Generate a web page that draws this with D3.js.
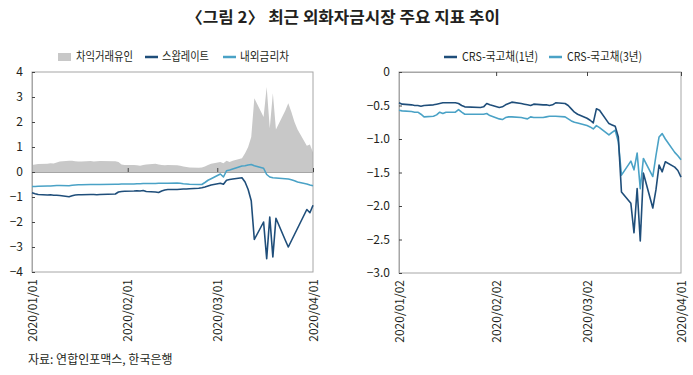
<!DOCTYPE html>
<html><head><meta charset="utf-8">
<script src="https://cdn.jsdelivr.net/npm/d3@7"></script>
<style>body{margin:0;background:#fff}svg{display:block}text{font-family:"Noto Sans CJK KR","Noto Sans",sans-serif}</style>
</head><body><svg id="c" width="693" height="375"></svg>
<script>
// ---------- DATA ----------
const tradingDays = ["2020-01-02","2020-01-03","2020-01-06","2020-01-07","2020-01-08","2020-01-09","2020-01-10","2020-01-13","2020-01-14","2020-01-15","2020-01-16","2020-01-17","2020-01-20","2020-01-21","2020-01-22","2020-01-23","2020-01-28","2020-01-29","2020-01-30","2020-01-31","2020-02-03","2020-02-04","2020-02-05","2020-02-06","2020-02-07","2020-02-10","2020-02-11","2020-02-12","2020-02-13","2020-02-14","2020-02-17","2020-02-18","2020-02-19","2020-02-20","2020-02-21","2020-02-24","2020-02-25","2020-02-26","2020-02-27","2020-02-28","2020-03-02","2020-03-03","2020-03-04","2020-03-05","2020-03-06","2020-03-09","2020-03-10","2020-03-11","2020-03-12","2020-03-13","2020-03-16","2020-03-17","2020-03-18","2020-03-19","2020-03-20","2020-03-23","2020-03-24","2020-03-25","2020-03-26","2020-03-27","2020-03-30","2020-03-31","2020-04-01"];
const leftDates = ["2020-01-01"].concat(tradingDays);
const arbitrage = [0.28,0.30,0.32,0.33,0.35,0.34,0.38,0.42,0.45,0.45,0.43,0.42,0.42,0.44,0.42,0.43,0.44,0.43,0.40,0.30,0.28,0.28,0.27,0.25,0.28,0.30,0.33,0.30,0.28,0.27,0.28,0.27,0.25,0.22,0.20,0.18,0.17,0.18,0.22,0.28,0.33,0.40,0.35,0.45,0.40,0.45,0.55,0.75,1.00,1.40,2.95,2.20,3.40,1.75,3.15,1.70,2.45,2.75,2.40,2.00,1.70,1.05,1.10,0.78];
const swapRate = [-0.83,-0.87,-0.90,-0.92,-0.91,-0.93,-0.93,-0.94,-0.99,-0.95,-0.92,-0.91,-0.91,-0.90,-0.90,-0.91,-0.90,-0.88,-0.80,-0.78,-0.77,-0.76,-0.75,-0.76,-0.74,-0.78,-0.80,-0.82,-0.76,-0.72,-0.70,-0.70,-0.69,-0.68,-0.68,-0.67,-0.65,-0.63,-0.60,-0.56,-0.52,-0.45,-0.49,-0.33,-0.30,-0.28,-0.23,-0.40,-0.70,-1.15,-2.70,-2.00,-3.47,-1.80,-3.40,-1.85,-2.72,-3.00,-2.75,-2.50,-2.25,-1.50,-1.63,-1.33];
const rateDiff = [-0.58,-0.58,-0.57,-0.56,-0.56,-0.55,-0.54,-0.54,-0.55,-0.53,-0.52,-0.51,-0.51,-0.50,-0.50,-0.50,-0.50,-0.49,-0.49,-0.48,-0.48,-0.48,-0.47,-0.47,-0.46,-0.46,-0.46,-0.45,-0.45,-0.45,-0.45,-0.44,-0.45,-0.47,-0.48,-0.49,-0.50,-0.50,-0.42,-0.33,-0.27,-0.08,-0.20,0.05,0.08,0.12,0.24,0.25,0.28,0.30,0.25,0.15,-0.10,-0.20,-0.23,-0.24,-0.27,-0.28,-0.31,-0.35,-0.40,-0.48,-0.52,-0.55];
const crs1y = [-0.46,-0.48,-0.49,-0.50,-0.50,-0.51,-0.50,-0.49,-0.48,-0.47,-0.46,-0.46,-0.46,-0.47,-0.50,-0.52,-0.53,-0.52,-0.47,-0.49,-0.53,-0.52,-0.49,-0.47,-0.45,-0.47,-0.48,-0.49,-0.50,-0.48,-0.49,-0.49,-0.50,-0.49,-0.46,-0.47,-0.50,-0.55,-0.60,-0.63,-0.69,-0.72,-0.76,-0.55,-0.57,-0.77,-0.79,-0.81,-0.97,-1.79,-1.96,-2.40,-1.74,-2.52,-1.51,-2.03,-1.76,-1.39,-1.49,-1.34,-1.42,-1.47,-1.57];
const crs3y = [-0.57,-0.58,-0.59,-0.60,-0.60,-0.63,-0.67,-0.66,-0.64,-0.60,-0.62,-0.60,-0.60,-0.56,-0.60,-0.63,-0.63,-0.63,-0.62,-0.65,-0.70,-0.71,-0.68,-0.67,-0.67,-0.68,-0.69,-0.70,-0.67,-0.68,-0.68,-0.67,-0.66,-0.66,-0.66,-0.67,-0.70,-0.73,-0.75,-0.76,-0.80,-0.82,-0.85,-0.80,-0.83,-0.94,-0.90,-0.87,-1.04,-1.54,-1.33,-1.46,-1.21,-1.74,-1.29,-1.56,-1.25,-0.97,-0.92,-1.00,-1.20,-1.25,-1.31];
const leftYTicks = [4,3,2,1,0,-1,-2,-3,-4];
const rightYTicks = [0,-0.5,-1.0,-1.5,-2.0,-2.5,-3.0];
const leftXTicks = ["2020-01-01","2020-02-01","2020-03-01","2020-04-01"];
const rightXTicks = ["2020-01-02","2020-02-02","2020-03-02","2020-04-01"];
const leftLegend = ["차익거래유인","스왑레이트","내외금리차"];
const rightLegend = ["CRS-국고채(1년)","CRS-국고채(3년)"];
const titleText = "〈그림 2〉 최근 외화자금시장 주요 지표 추이";
const sourceText = "자료: 연합인포맥스, 한국은행";

// ---------- DRAW ----------
const P = d3.timeParse("%Y-%m-%d");
const fmt = d3.timeFormat("%Y/%m/%d");
const C_DARK = "#1f4e7a", C_LIGHT = "#4aa2c6", C_GRAY = "#c8c8c8", C_FRAME = "#a6a6a6", C_TEXT = "#231f20";
const svg = d3.select("#c");
svg.append("rect").attr("width",693).attr("height",375).attr("fill","#fff");

svg.append("text").attr("x",186).attr("y",23)
  .attr("font-size",16).attr("font-weight","bold").attr("fill",C_TEXT)
  .attr("textLength",314).attr("lengthAdjust","spacingAndGlyphs").text(titleText);
svg.append("text").attr("x",28).attr("y",364).attr("font-size",12).attr("fill",C_TEXT).text(sourceText);

function panel(o){
  const x = d3.scaleTime().domain(o.xDomain.map(P)).range([o.x0,o.x1]);
  const y = d3.scaleLinear().domain(o.yDomain).range([o.y1,o.y0]);
  const g = svg.append("g");
  if(o.area){
    const a = d3.area().x((d,i)=>x(P(o.dates[i]))).y0(y(0)).y1(d=>y(d));
    g.append("path").datum(o.area).attr("d",a).attr("fill",C_GRAY);
  }
  g.append("rect").attr("x",o.x0).attr("y",o.y0).attr("width",o.x1-o.x0).attr("height",o.y1-o.y0)
    .attr("fill","none").attr("stroke",C_FRAME).attr("stroke-width",1);
  const xa = o.tickDown ? d3.axisBottom(x) : d3.axisTop(x);
  const ga = g.append("g").attr("transform",`translate(0,${y(0)})`)
    .call(xa.tickValues(o.xTicks.map(P)).tickSize(4).tickFormat(""));
  ga.select(".domain").attr("stroke",C_FRAME);
  ga.selectAll(".tick line").attr("stroke","#444");
  const gy = g.append("g").attr("transform",`translate(${o.x0},0)`)
    .call(d3.axisLeft(y).tickValues(o.yTicks).tickSize(-3).tickPadding(9).tickFormat(o.yFmt));
  gy.select(".domain").attr("stroke",C_FRAME);
  gy.selectAll(".tick line").attr("stroke","#444");
  gy.selectAll("text").attr("font-size",12).attr("fill",C_TEXT).style("font-family","'Noto Sans CJK KR',sans-serif");
  const gx = g.append("g").attr("transform",`translate(0,${o.y1+7})`)
    .call(d3.axisBottom(x).tickValues(o.xTicks.map(P)).tickSize(0).tickPadding(0).tickFormat(fmt));
  gx.select(".domain").remove();
  gx.selectAll("text").attr("transform","rotate(-90)").attr("text-anchor","end")
    .attr("x",0).attr("y",0).attr("dy","0.35em").attr("font-size",12).attr("fill",C_TEXT)
    .style("font-family","'Noto Sans CJK KR',sans-serif");
  o.lines.forEach(l=>{
    const ln = d3.line().x((d,i)=>x(P(o.dates[i]))).y(d=>y(d));
    g.append("path").datum(l.values).attr("d",ln).attr("fill","none")
      .attr("stroke",l.color).attr("stroke-width",1.6).attr("stroke-linejoin","round");
  });
}

panel({x0:32,x1:313,y0:72,y1:272,xDomain:["2020-01-01","2020-04-01"],yDomain:[-4,4],
  dates:leftDates,area:arbitrage,xTicks:leftXTicks,yTicks:leftYTicks,yFmt:d3.format("d"),tickDown:false,
  lines:[{values:rateDiff,color:C_LIGHT},{values:swapRate,color:C_DARK}]});
panel({x0:399,x1:681,y0:72,y1:273,xDomain:["2020-01-02","2020-04-01"],yDomain:[-3,0],
  dates:tradingDays,xTicks:rightXTicks,yTicks:rightYTicks,yFmt:d=>d===0?"0":d3.format(".1f")(d),tickDown:true,
  lines:[{values:crs3y,color:C_LIGHT},{values:crs1y,color:C_DARK}]});

function legend(items, y){
  items.forEach(it=>{
    if(it.type==="rect") svg.append("rect").attr("x",it.mx).attr("y",y-4).attr("width",13).attr("height",8).attr("fill",it.color);
    else svg.append("line").attr("x1",it.mx).attr("x2",it.mx+13).attr("y1",y).attr("y2",y).attr("stroke",it.color).attr("stroke-width",2.5);
    svg.append("text").attr("x",it.tx).attr("y",y).attr("dy","0.35em").attr("font-size",12).attr("fill",C_TEXT)
      .attr("textLength",it.w).attr("lengthAdjust","spacingAndGlyphs").text(it.label);
  });
}
legend([{type:"rect",color:C_GRAY,label:leftLegend[0],mx:58,tx:76,w:57},
        {type:"line",color:C_DARK,label:leftLegend[1],mx:145,tx:162,w:47},
        {type:"line",color:C_LIGHT,label:leftLegend[2],mx:223,tx:240,w:49}],57);
legend([{type:"line",color:C_DARK,label:rightLegend[0],mx:444,tx:462,w:76},
        {type:"line",color:C_LIGHT,label:rightLegend[1],mx:549,tx:567,w:75}],57);
</script></body></html>
